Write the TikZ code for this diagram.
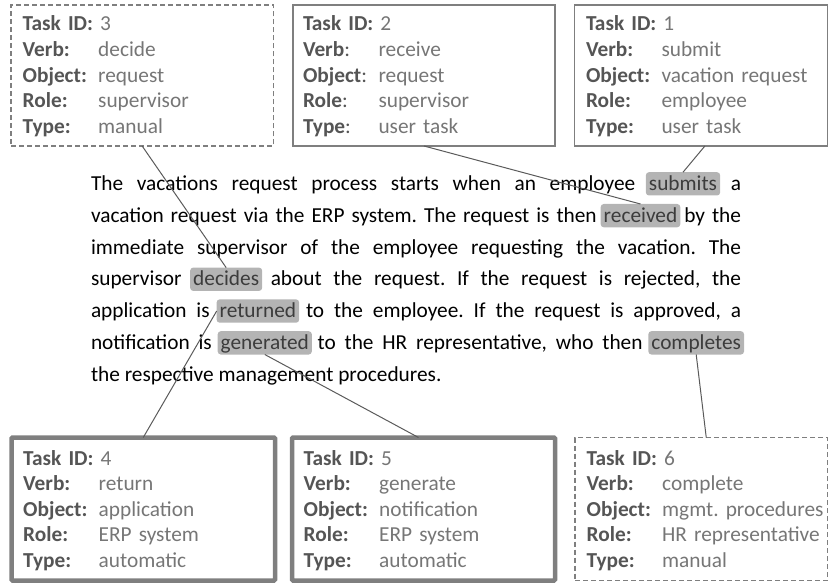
\documentclass[tikz,border=0pt]{standalone}
\usepackage{fontspec}
\setmainfont{Carlito}
\usetikzlibrary{calc}

\definecolor{labelgray}{HTML}{555555}
\definecolor{valuegray}{HTML}{767676}
\definecolor{framegray}{HTML}{7F7F7F}
\definecolor{hlfill}{HTML}{B4B4B4}
\definecolor{hltext}{HTML}{3C3C3C}
\definecolor{linkgray}{HTML}{5A5A5A}

% fonts of the paragraph and of the task cards
\newcommand\bodyfont{\fontsize{21.33}{31.8}\selectfont\frenchspacing}
\newcommand\cardfont{\fontsize{21.33}{25.6}\selectfont\frenchspacing}

% lines of a task card: the id line, then label column and value
\newcommand\taskid[1]{\mbox{{\color{labelgray}\bfseries Task ID:} {\color{valuegray}#1}}}
\newcommand\field[2]{\mbox{\makebox[75.5pt][l]{\color{labelgray}#1}{\color{valuegray}#2}}}

% interword space that stretches a line of #2 (with #3 spaces) to the paragraph width
\newlength\parwidth
\setlength\parwidth{650pt}
\newlength\natwidth
\newcommand\gapfor[3]{%
  \begingroup\bodyfont
  \setbox0=\hbox{#2}%
  \natwidth=\dimexpr\fontdimen2\font+(\parwidth-\wd0)/#3\relax
  \xdef#1{\the\natwidth}%
  \endgroup}

\begin{document}
\gapfor\gA{The vacations request process starts when an employee submits a}{9}%
\gapfor\gB{vacation request via the ERP system. The request is then received by the}{12}%
\gapfor\gC{immediate supervisor of the employee requesting the vacation. The}{8}%
\gapfor\gD{supervisor decides about the request. If the request is rejected, the}{10}%
\gapfor\gE{application is returned to the employee. If the request is approved, a}{11}%
\gapfor\gF{notification is generated to the HR representative, who then completes}{9}%
\begin{tikzpicture}[x=1pt,y=-1pt,
  card/.style={draw=framegray, line width=1.3pt, anchor=north west,
    inner xsep=11.7pt, inner ysep=0pt, outer sep=0pt, align=left, font=\cardfont},
  toprow/.style={text height=26pt, text depth=115pt},
  bottomrow/.style={text height=27.5pt, text depth=115.5pt},
  usercard/.style={card},
  manualcard/.style={card, line width=1.2pt, dash pattern=on 5pt off 3pt},
  autocard/.style={card, line width=4.5pt, rounded corners=1pt},
  ptext/.style={inner sep=0pt, outer sep=0pt, anchor=base west, font=\bodyfont, text=black},
  hlword/.style={fill=hlfill, rounded corners=3pt, inner xsep=3pt, inner ysep=2.3pt,
    text height=16pt, text depth=2.7pt, outer sep=0pt, anchor=text,
    font=\bodyfont, text=hltext},
  link/.style={draw=linkgray, line width=1pt}]

\useasboundingbox (0,0) rectangle (828,583);

% ---------- task cards, top row ----------
\node[manualcard, toprow, text width=238.9pt] (box3) at (11,5) {%
  \taskid{3}\\
  \field{\textbf{Verb:}}{decide}\\
  \field{\textbf{Object:}}{request}\\
  \field{\textbf{Role:}}{supervisor}\\
  \field{\textbf{Type:}}{manual}};

\node[usercard, toprow, inner xsep=10pt, text width=242pt] (box2) at (293,5) {%
  \taskid{2}\\
  \field{\textbf{Verb}:}{receive}\\
  \field{\textbf{Object}:}{request}\\
  \field{\textbf{Role}:}{supervisor}\\
  \field{\textbf{Type}:}{user task}};

\node[usercard, toprow, text width=229.8pt] (box1) at (574.3,5) {%
  \taskid{1}\\
  \field{\textbf{Verb:}}{submit}\\
  \field{\textbf{Object:}}{vacation request}\\
  \field{\textbf{Role:}}{employee}\\
  \field{\textbf{Type:}}{user task}};

% ---------- task cards, bottom row ----------
\node[autocard, bottomrow, text width=240.1pt] (box4) at (11.5,437.5) {%
  \taskid{4}\\
  \field{\textbf{Verb:}}{return}\\
  \field{\textbf{Object:}}{application}\\
  \field{\textbf{Role:}}{ERP system}\\
  \field{\textbf{Type:}}{automatic}};

\node[autocard, bottomrow, text width=239.6pt] (box5) at (292,437.5) {%
  \taskid{5}\\
  \field{\textbf{Verb:}}{generate}\\
  \field{\textbf{Object:}}{notification}\\
  \field{\textbf{Role:}}{ERP system}\\
  \field{\textbf{Type:}}{automatic}};

\node[manualcard, bottomrow, text width=229.1pt] (box6) at (575,437.5) {%
  \taskid{6}\\
  \field{\textbf{Verb:}}{complete}\\
  \field{\textbf{Object:}}{mgmt. procedures}\\
  \field{\textbf{Role:}}{HR representative}\\
  \field{\textbf{Type:}}{manual}};

% ---------- justified paragraph ----------
% line 1
\node[ptext] (l1a) at (91,190.5) {\spaceskip=\gA\relax The vacations request process starts when an employee};
\node[hlword] (submits) at ($(l1a.base east)+(\gA,0)$) {submits};
\node[ptext] (l1b) at ($(submits.base east)+({\gA-3pt},0)$) {a};

% line 2
\node[ptext] (l2a) at (91,222.3) {\spaceskip=\gB\relax vacation request via the ERP system. The request is then};
\node[hlword] (received) at ($(l2a.base east)+(\gB,0)$) {received};
\node[ptext] (l2b) at ($(received.base east)+({\gB-3pt},0)$) {\spaceskip=\gB\relax by the};

% line 3
\node[ptext] (l3) at (91,254.1) {\spaceskip=\gC\relax immediate supervisor of the employee requesting the vacation. The};

% line 4
\node[ptext] (l4a) at (91,285.9) {supervisor};
\node[hlword] (decides) at ($(l4a.base east)+(\gD,0)$) {decides};
\node[ptext] (l4b) at ($(decides.base east)+({\gD-3pt},0)$) {\spaceskip=\gD\relax about the request. If the request is rejected, the};

% line 5
\node[ptext] (l5a) at (91,317.7) {\spaceskip=\gE\relax application is};
\node[hlword] (returned) at ($(l5a.base east)+(\gE,0)$) {returned};
\node[ptext] (l5b) at ($(returned.base east)+({\gE-3pt},0)$) {\spaceskip=\gE\relax to the employee. If the request is approved, a};

% line 6
\node[ptext] (l6a) at (91,349.5) {\spaceskip=\gF\relax notification is};
\node[hlword] (generated) at ($(l6a.base east)+(\gF,0)$) {generated};
\node[ptext] (l6b) at ($(generated.base east)+({\gF-3pt},0)$) {\spaceskip=\gF\relax to the HR representative, who then};
\node[hlword] (completes) at ($(l6b.base east)+(\gF,0)$) {completes};

% line 7
\node[ptext] (l7) at (91,381.3) {the respective management procedures.};

% ---------- links from the cards to the highlighted verbs ----------
\draw[link] (box3.south) -- (decides.north);
\draw[link] (box2.south) -- (received.north);
\draw[link] ([xshift=4pt]box1.south) -- (submits.north);
\draw[link] (box4.north) -- (returned.west);
\draw[link] ([xshift=-5pt]box5.north) -- (generated.south);
\draw[link] ([xshift=5pt]box6.north) -- (completes.south);

\end{tikzpicture}
\end{document}
